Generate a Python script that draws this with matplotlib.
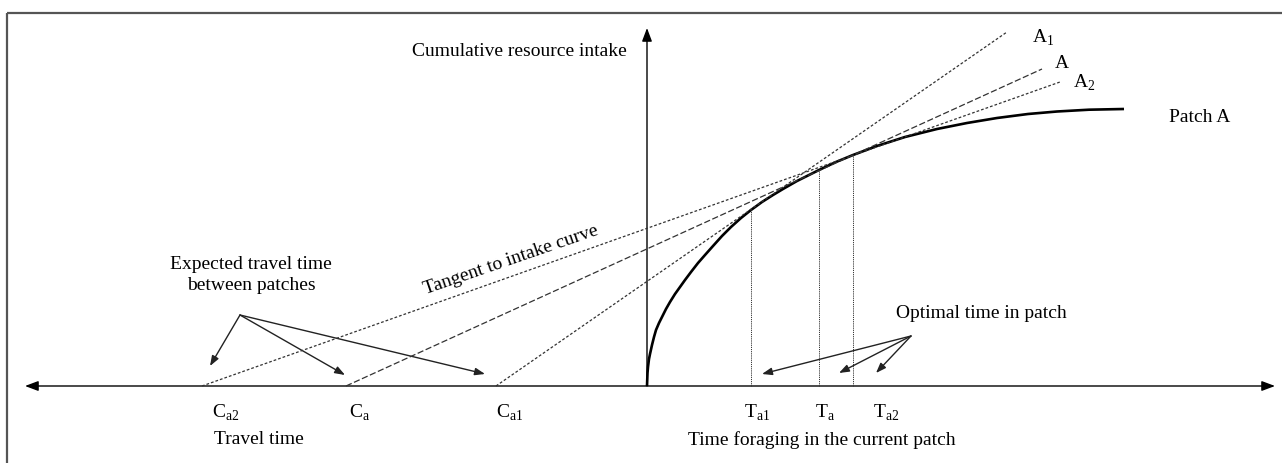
import matplotlib.pyplot as plt
from matplotlib.patches import FancyArrowPatch

# fonte serifada parecida com a do artigo
plt.rcParams['font.family'] = ['Liberation Serif', 'DejaVu Serif']
plt.rcParams['mathtext.fontset'] = 'custom'
plt.rcParams['mathtext.rm'] = 'Liberation Serif'

# Unidades: pixels da figura original, origem no cruzamento dos eixos
# curva de ganho acumulado no patch A
tempo_patch = [0, 0.5, 1, 2, 3, 5, 7, 9, 12, 15, 19, 23, 28, 33, 38, 44, 51, 58, 66, 75,
               84, 94, 104, 115, 126, 136, 150, 172, 189, 206, 230, 258, 290, 320, 350,
               381, 410, 442, 477]
ganho_patch = [0, 13, 19, 27, 32, 41, 49, 56, 63, 69, 77, 84, 92, 99, 106, 114, 123, 131,
               140, 150, 159, 168, 176, 184, 191, 197, 205, 216, 224, 231, 240, 249, 257,
               263, 268, 272, 274.5, 276.3, 277]

# retas tangentes: ponto de partida no eixo de viagem e ponto final (A2, A, A1)
tempo_viagem = [-445, -301, -151]
reta_fim_x = [413, 395, 360]
reta_fim_y = [304, 317, 354]
rotulos_reta = [r'A$_{2}$', 'A', r'A$_{1}$']
rotulos_viagem = [r'C$_{\mathrm{a2}}$', r'C$_{\mathrm{a}}$', r'C$_{\mathrm{a1}}$']

# tempos ótimos no patch (Ta1, Ta, Ta2) e altura da curva nesses pontos
tempo_otimo = [104, 172, 206]
ganho_otimo = [176, 216, 231]
rotulos_otimo = [r'T$_{\mathrm{a1}}$', r'T$_{\mathrm{a}}$', r'T$_{\mathrm{a2}}$']

FS = 14


def seta(ax, ini, fim, escala=10, comp=0.6, larg=0.22, lw=1.0, cor='#222222', estilo='-|>'):
    # seta reta com ponta preenchida
    a = FancyArrowPatch(ini, fim, arrowstyle=f'{estilo},head_length={comp},head_width={larg}',
                        mutation_scale=escala, lw=lw, color=cor, shrinkA=0, shrinkB=0,
                        clip_on=False)
    ax.add_patch(a)


fig = plt.figure(figsize=(12.82, 4.64), dpi=100)
ax = fig.add_axes([0, 0, 1, 1])
ax.set_xlim(-647, 635)
ax.set_ylim(-77, 387)
ax.axis('off')

# moldura (só topo e lado esquerdo aparecem no recorte)
ax.plot([-640, 635], [373, 373], color='#555555', lw=1.6, solid_capstyle='butt', clip_on=False)
ax.plot([-640, -640], [373, -77], color='#555555', lw=1.6, solid_capstyle='butt', clip_on=False)

# eixos com setas
seta(ax, (-622, 0), (628, 0), escala=10, comp=0.8, larg=0.3, lw=1.0, cor='black', estilo='<|-|>')
seta(ax, (0, 0), (0, 358), escala=10, comp=0.8, larg=0.3, lw=1.0, cor='black')

# curva de ganho
ax.plot(tempo_patch, ganho_patch, color='black', lw=1.9, solid_capstyle='butt',
        solid_joinstyle='round')

# retas tangentes
estilos = [(0, (2.2, 1.6)), (0, (5, 2)), (0, (2.2, 1.6))]
for c, fx, fy, est in zip(tempo_viagem, reta_fim_x, reta_fim_y, estilos):
    ax.plot([c, fx], [0, fy], color='#333333', lw=0.9, linestyle=est)

# linhas verticais nos tempos ótimos
for t, g in zip(tempo_otimo, ganho_otimo):
    ax.plot([t, t], [0, g], color='#333333', lw=0.7, linestyle=(0, (1.2, 1.0)))

# rótulos das retas e da curva
pos_rot_reta = [(426, 304), (408, 324), (385, 349)]
for (x, y), r in zip(pos_rot_reta, rotulos_reta):
    ax.text(x, y, r, fontsize=FS, ha='left', va='center')
ax.text(522, 270, 'Patch A', fontsize=FS, ha='left', va='center')

# rótulos nos eixos
dx_viagem = [10, 3, 0]
for c, d, r in zip(tempo_viagem, dx_viagem, rotulos_viagem):
    ax.text(c + d, -26, r, fontsize=FS, ha='left', va='center')
dx_otimo = [-7, -4, 20]
for t, d, r in zip(tempo_otimo, dx_otimo, rotulos_otimo):
    ax.text(t + d, -26, r, fontsize=FS, ha='left', va='center')

ax.text(-433, -53, 'Travel time', fontsize=FS, ha='left', va='center')
ax.text(41, -53, 'Time foraging in the current patch', fontsize=FS, ha='left', va='center')
ax.text(-20, 335, 'Cumulative resource intake', fontsize=FS, ha='right', va='center')

ax.text(-136, 127, 'Tangent to intake curve', fontsize=FS, ha='center', va='center',
        rotation=19, rotation_mode='anchor')

# anotações com setas
ax.text(-396, 112, 'Expected travel time\nbetween patches', fontsize=FS, ha='center',
        va='center', linespacing=1.25)
for fim in [(-437, 20), (-302, 11), (-162, 12)]:
    seta(ax, (-407, 71), fim)

ax.text(249, 74, 'Optimal time in patch', fontsize=FS, ha='left', va='center')
for fim in [(115, 12), (192, 13), (229, 13)]:
    seta(ax, (264, 50), fim)

fig.savefig('out.png', dpi=100)
